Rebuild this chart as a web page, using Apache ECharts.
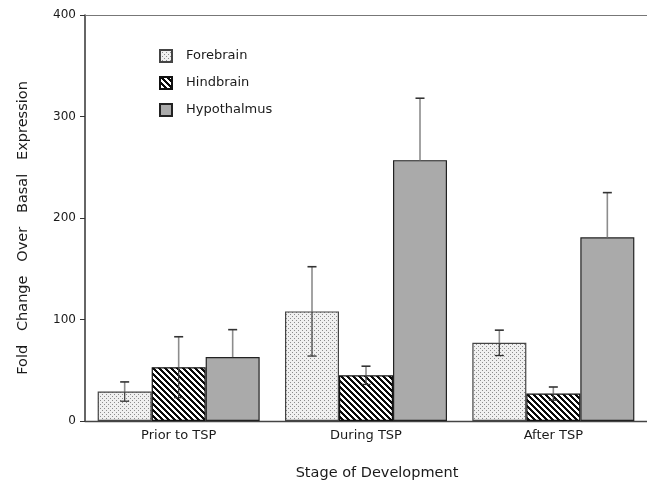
<!DOCTYPE html>
<html>
<head>
<meta charset="utf-8">
<script src="https://cdn.jsdelivr.net/npm/echarts@6/dist/echarts.min.js"></script>
<style>
html,body{margin:0;padding:0;background:#fff;}
#chart{width:647px;height:483px;}
</style>
</head>
<body>
<div id="chart"></div>
<script>
// ---- data ----
const categories = ['Prior to TSP', 'During TSP', 'After TSP'];
const seriesNames = ['Forebrain', 'Hindbrain', 'Hypothalmus'];
const forebrain = [29, 108, 77];
const forebrainErr = [9.5, 44, 12.5];
const hindbrain = [53, 45, 27];
const hindbrainErr = [30, 9, 6.5];
const hypothalmus = [63, 257, 181];
const hypothalmusErr = [27, 61, 44];
const yTicks = [0, 100, 200, 300, 400];
const xTitle = 'Stage of Development';
const yTitle = 'Fold   Change   Over   Basal   Expression';

// ---- patterns ----
function makePattern(size, fn) {
  const c = document.createElement('canvas');
  c.width = size; c.height = size;
  const ctx = c.getContext('2d');
  const img = ctx.createImageData(size, size);
  for (let y = 0; y < size; y++) {
    for (let x = 0; x < size; x++) {
      const v = fn(x, y);
      const i = (y * size + x) * 4;
      img.data[i] = v; img.data[i + 1] = v; img.data[i + 2] = v; img.data[i + 3] = 255;
    }
  }
  ctx.putImageData(img, 0, 0);
  return c;
}
const dotCanvas = makePattern(4, (x, y) => ((x === 0 && y === 0) || (x === 2 && y === 2)) ? 140 : 240);
const stripeCanvas = makePattern(6, (x, y) => (((x - y) % 6 + 6) % 6) < 3 ? 10 : 255);

const fills = [
  { image: dotCanvas, repeat: 'repeat' },
  { image: stripeCanvas, repeat: 'repeat' },
  '#aaaaaa'
];
const borders = ['#444', '#111', '#222'];
const values = [forebrain, hindbrain, hypothalmus];
const errs = [forebrainErr, hindbrainErr, hypothalmusErr];

const BAR_W = 54;
const FONT = 'DejaVu Sans';

const barSeries = seriesNames.map((name, k) => ({
  name: name,
  type: 'bar',
  data: values[k],
  barWidth: BAR_W,
  barGap: '0%',
  itemStyle: { color: fills[k], borderColor: borders[k], borderWidth: 1.2 },
  emphasis: { disabled: true },
  z: 2
}));

const errSeries = seriesNames.map((name, k) => ({
  type: 'custom',
  name: name + ' err',
  z: 5,
  silent: true,
  data: values[k].map((v, i) => [i, v, errs[k][i]]),
  renderItem: function (params, api) {
    const i = api.value(0), v = api.value(1), e = api.value(2);
    const mid = api.coord([i, v]);
    const top = api.coord([i, v + e]);
    const bot = api.coord([i, v - e]);
    const x = mid[0] + (k - 1) * BAR_W;
    const cap = 4.5;
    const children = [
      { type: 'line', shape: { x1: x, y1: mid[1], x2: x, y2: top[1] }, style: { stroke: '#8c8c8c', lineWidth: 1.6 } },
      { type: 'line', shape: { x1: x - cap, y1: top[1], x2: x + cap, y2: top[1] }, style: { stroke: '#333', lineWidth: 1.6 } }
    ];
    if (k < 2) {
      children.push(
        { type: 'line', shape: { x1: x, y1: mid[1], x2: x, y2: bot[1] }, style: { stroke: '#444', lineWidth: 1.3 } },
        { type: 'line', shape: { x1: x - cap, y1: bot[1], x2: x + cap, y2: bot[1] }, style: { stroke: '#333', lineWidth: 1.3 } }
      );
    }
    return { type: 'group', children: children };
  }
}));

const chart = echarts.init(document.getElementById('chart'), null, { renderer: 'canvas' });
chart.setOption({
  animation: false,
  backgroundColor: '#fff',
  grid: { left: 85, right: -2, top: 15, bottom: 62, containLabel: false },
  legend: {
    data: seriesNames,
    orient: 'vertical',
    left: 154,
    top: 44,
    itemWidth: 12,
    itemHeight: 12,
    itemGap: 13,
    icon: 'rect',
    selectedMode: false,
    textStyle: { fontFamily: FONT, fontSize: 13, color: '#1a1a1a', padding: [0, 0, 0, 9] }
  },
  xAxis: [{
    type: 'category',
    data: categories,
    axisLine: { lineStyle: { color: '#444', width: 1.3 } },
    axisTick: { alignWithLabel: true, length: 5, lineStyle: { color: '#444' } },
    axisLabel: { fontFamily: FONT, fontSize: 13, color: '#1a1a1a', margin: 8 }
  }, {
    type: 'category',
    data: categories,
    position: 'top',
    axisLine: { lineStyle: { color: '#777', width: 1.2 } },
    axisTick: { show: false },
    axisLabel: { show: false }
  }],
  yAxis: {
    type: 'value',
    min: yTicks[0],
    max: yTicks[yTicks.length - 1],
    interval: yTicks[1] - yTicks[0],
    axisLine: { show: true, lineStyle: { color: '#333', width: 1.5 } },
    axisTick: { show: true, length: 5, lineStyle: { color: '#333' } },
    splitLine: { show: false },
    axisLabel: { fontFamily: FONT, fontSize: 12, color: '#1a1a1a', margin: 9 }
  },
  graphic: [
    {
      type: 'text', x: 377, y: 473,
      style: { text: xTitle, fontFamily: FONT, fontSize: 14.5, fill: '#1a1a1a', textAlign: 'center', textVerticalAlign: 'middle' }
    },
    {
      type: 'text', x: 23, y: 228, rotation: Math.PI / 2,
      style: { text: yTitle, fontFamily: FONT, fontSize: 14.5, fill: '#1a1a1a', textAlign: 'center', textVerticalAlign: 'middle' }
    }
  ],
  series: barSeries.concat(errSeries)
});
</script>
</body>
</html>
